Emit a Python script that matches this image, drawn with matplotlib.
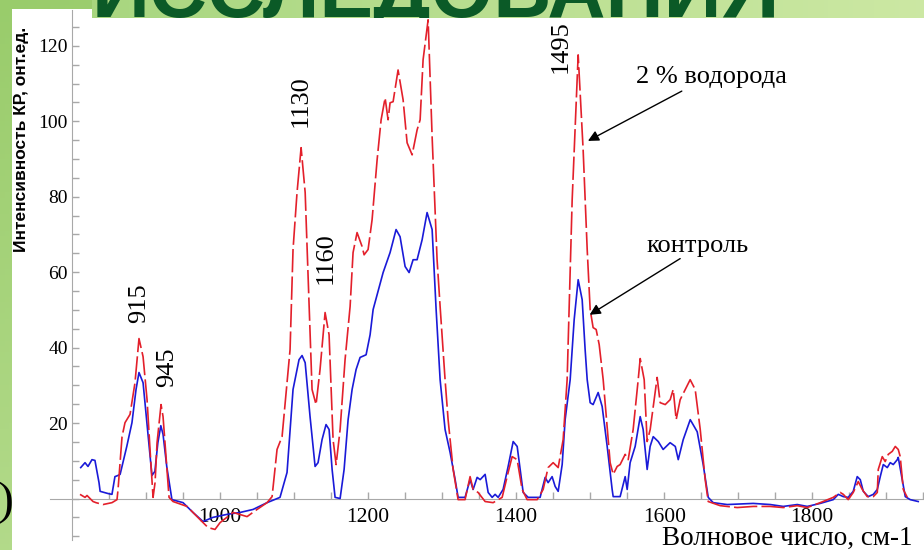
import matplotlib
matplotlib.use("Agg")
import matplotlib.pyplot as plt
from matplotlib.patches import Rectangle
from matplotlib.ticker import FixedLocator
import numpy as np

# контроль (синяя линия)
wn_ctrl = [811.8, 817.6, 821.6, 827, 831, 836.5, 838, 849, 854, 858, 862, 865, 874, 881,
           886.5, 890.5, 896, 903, 908, 912, 916, 920, 923, 928, 935, 950, 963.5, 977,
           990.5, 1009.5, 1027, 1044.6, 1063.5, 1081, 1090.5, 1098.6, 1106.7, 1110.8, 1115,
           1121.6, 1128.4, 1132.4, 1137.8, 1143.2, 1147.3, 1151.4, 1155.4, 1162.2, 1167.6,
           1173, 1178.4, 1183.8, 1189.2, 1197.3, 1202.7, 1206.8, 1220.3, 1229.7, 1237.8,
           1243.2, 1250, 1255.4, 1260.8, 1266.2, 1273, 1279.7, 1286.5, 1291.9, 1297.3, 1304,
           1310.8, 1317.6, 1321.6, 1331, 1337.8, 1341.9, 1347.3, 1351.4, 1358.1, 1362.2,
           1367.6, 1371.6, 1375.7, 1382.4, 1389.2, 1396, 1401.4, 1405.4, 1409.5, 1416.2,
           1432.4, 1439.2, 1443.2, 1448.6, 1452.7, 1456.8, 1462.2, 1466.2, 1473, 1478.4,
           1483.8, 1489.2, 1493.2, 1496, 1500, 1504, 1510.8, 1516.2, 1523, 1529.7, 1531.1,
           1540.5, 1547.3, 1550, 1554, 1560.8, 1567.6, 1571.6, 1577, 1581, 1585.2, 1592,
           1598.6, 1608, 1615, 1619, 1625.7, 1635.2, 1644.6, 1652.7, 1659.5, 1666.2, 1685.1,
           1720.3, 1743.3, 1760.8, 1779.8, 1793.3, 1810.8, 1828.4, 1835.2, 1842, 1848.6,
           1855.4, 1860.8, 1864.9, 1869, 1875.7, 1882.5, 1887.9, 1891.9, 1896, 1901.4,
           1905.4, 1909.5, 1914.9, 1916.2, 1921.6, 1925.7, 1932.4, 1943.2]
int_ctrl = [8.2, 9.5, 8.5, 10.3, 10.1, 4.2, 1.9, 1.3, 1.1, 5.8, 6.1, 6.4, 13.8, 20.1,
            28.9, 33.4, 30.7, 16.4, 6.1, 7.2, 14.8, 19.3, 17.0, 8.5, -0.3, -1.1, -3.7, -6.1,
            -5.0, -4.2, -3.7, -2.9, -1.1, 0.3, 6.9, 28.9, 36.8, 37.9, 36.0,
            21.7, 8.5, 9.5, 15.6, 19.6, 18.3, 7.7, 0.3, 0.0, 7.7,
            20.9, 28.9, 34.2, 37.4, 38.1, 43.4, 50.1, 59.9, 65.2, 71.3,
            69.4, 61.5, 59.9, 63.3, 63.3, 68.6, 75.8, 71.3, 50.1, 31.5, 18.3,
            12.2, 5.0, 0.3, 0.3, 5.0, 2.4, 5.6, 5.0, 6.4, 1.6,
            0.3, 1.1, 0.3, 2.4, 8.5, 15.1, 13.8, 7.7, 1.6, 0.3,
            0.3, 5.6, 4.2, 5.8, 3.2, 1.9, 9.0, 20.9, 31.5, 47.4,
            58.0, 52.7, 39.5, 31.5, 25.4, 24.9, 28.1, 24.4, 13.8, 2.4, 0.5,
            0.5, 5.8, 2.4, 9.5, 13.8, 21.7, 18.3, 7.7, 13.8, 16.4, 15.1,
            13.0, 14.8, 13.8, 10.3, 15.6, 20.9, 17.7, 9.0, 0.3, -1.1, -1.6,
            -1.3, -1.6, -2.1, -1.6, -2.1, -1.3, -0.3, 1.1, 0.5, 0.3,
            1.9, 5.8, 5.0, 1.9, 0.5, 1.1, 2.4, 5.8, 9.0, 8.2,
            9.5, 9.0, 10.3, 10.9, 5.0, 0.5, -0.3, -0.8]

# 2 % водорода (красная пунктирная)
wn_h2 = [810.8, 817.6, 820.3, 828.4, 832.4, 841.9, 854, 860.8, 862.2, 867.6, 871.6, 878.4,
         885.1, 890.5, 896, 901.4, 905.4, 909.5, 912.2, 914.9, 920.3, 923, 927, 931.1,
         936.5, 955.4, 973, 983.8, 993.2, 1000, 1017.6, 1036.5, 1050, 1063.5, 1070.3, 1077,
         1083.8, 1094.6, 1098.6, 1104, 1109.5, 1115, 1120.3, 1124.3, 1129.7, 1135.1, 1141.9,
         1147.3, 1152.7, 1156.8, 1162.2, 1168.9, 1175.7, 1179.7, 1185.1, 1191.9, 1194.6,
         1200, 1205.4, 1212.2, 1217.6, 1223, 1227, 1229.7, 1233.8, 1240.5, 1247.3, 1252.7,
         1259.5, 1266.2, 1270.3, 1274.3, 1281.1, 1286.5, 1293.2, 1297.3, 1304, 1308.1,
         1314.9, 1321.6, 1331, 1337.8, 1341.9, 1348.6, 1358.1, 1368.9, 1381.1, 1389.2,
         1394.6, 1401.4, 1408.1, 1414.9, 1428.4, 1436.5, 1443.2, 1450, 1456.8, 1463.5,
         1468.9, 1475.7, 1483.8, 1490.5, 1496, 1500, 1504, 1508.1, 1512.2, 1517.6, 1527,
         1531.1, 1536.5, 1540.5, 1547.3, 1551.4, 1558.1, 1564.9, 1567.6, 1573, 1577, 1581.1,
         1587.8, 1590.5, 1594.6, 1601.4, 1608.1, 1612.2, 1616.2, 1621.6, 1627, 1635.1,
         1641.9, 1648.7, 1655.4, 1659.5, 1675.7, 1698.7, 1720.3, 1743.2, 1760.8, 1779.7,
         1793.2, 1810.8, 1828.4, 1837.8, 1842, 1848.6, 1855.4, 1862.2, 1867.6, 1874.3,
         1882.5, 1887.9, 1889.2, 1894.6, 1898.6, 1902.7, 1908.1, 1912.2, 1916.2, 1918.9,
         1923, 1928.4]
int_h2 = [1.1, 0.3, 0.8, -0.8, -1.1, -1.6, -1.1, -0.3, 2.4, 16.4, 20.1, 22.3,
          30.7, 42.4, 37.6, 26.2, 13.0, 0.3, 4.2, 14.8, 24.9, 21.7, 11.1, 0.3,
          -0.8, -2.1, -5.6, -7.7, -8.2, -6.4, -3.7, -4.8, -2.9, -1.1, 0.5, 13.0,
          16.4, 39.5, 66.0, 81.1, 93.0, 81.1, 50.9, 28.9, 24.9, 34.2, 49.3,
          43.4, 15.6, 9.0, 18.3, 36.8, 50.9, 65.2, 70.5, 66.8, 64.6,
          66.0, 73.9, 89.8, 100.4, 106.2, 100.4, 104.9, 105.2, 113.6, 105.7, 94.3,
          91.1, 97.7, 100.4, 116.3, 126.9, 95.9, 63.3, 50.9, 31.5, 20.9,
          7.7, -0.3, -0.3, 5.8, 2.4, 1.6, -0.8, -1.1, 0.3, 6.9,
          11.1, 10.3, 2.4, -0.3, -0.3, 2.4, 8.2, 9.5, 8.2, 15.6,
          31.5, 79.2, 117.6, 92.5, 66.0, 50.1, 45.3, 44.8, 40.8, 31.5, 9.5,
          6.4, 8.5, 9.0, 11.7, 10.3, 18.3, 31.5, 37.1, 31.5, 15.1, 18.3,
          28.1, 32.1, 25.4, 24.9, 26.2, 28.9, 20.9, 26.2, 28.3, 31.5,
          28.9, 18.3, 5.0, -0.8, -1.9, -2.4, -2.1, -2.1, -2.4, -1.9,
          -2.4, -1.1, 0.3, 1.6, 1.1, -0.3, 1.6, 4.5, 2.4, 0.5,
          0.5, 1.6, 7.7, 11.1, 9.8, 11.7, 12.5, 13.8, 13.0, 11.1,
          2.4, 0.3]

peak_labels = ["915", "945", "1130", "1160", "1495"]
peak_x = [890.5, 928.4, 1109.5, 1143.2, 1459.5]
peak_y = [51.9, 34.7, 105.4, 63.8, 119.7]

W, H = 924, 550
fig = plt.figure(figsize=(W / 100, H / 100), dpi=100)

# фон слайда (зелёный градиент)
bg = fig.add_axes([0, 0, 1, 1], zorder=-10)
gx = np.linspace(0, 1, 200)
gy = np.linspace(0, 1, 100)
GX, GY = np.meshgrid(gx, gy)
c0 = np.array([0.60, 0.80, 0.42])
c1 = np.array([0.80, 0.91, 0.66])
t = np.clip(0.5 * GX + 0.5 * GY, 0, 1)[..., None]
bg.imshow(c0 * (1 - t) + c1 * t, aspect='auto', extent=[0, 1, 0, 1])
bg.axis('off')

fig.text(13 / W, 1 - 503 / H, ")", ha='right', va='center', fontsize=34,
         family='Liberation Serif', zorder=-7)
fig.patches.append(Rectangle((12 / W, 0), 1, 1 - 9 / H, transform=fig.transFigure,
                             facecolor='white', edgecolor='none', zorder=-5))

# полоса заголовка
band = fig.add_axes([92 / W, 1 - 18 / H, 1 - 92 / W, 18 / H], zorder=5)
bx = np.linspace(0, 1, 200)[None, :, None]
band.imshow(np.array([0.66, 0.84, 0.50]) * (1 - bx) + np.array([0.80, 0.91, 0.64]) * bx,
            aspect='auto', extent=[0, 1, 0, 1])
band.set_xlim(0, 1)
band.set_ylim(0, 1)
band.axis('off')
band.text(0.0, 1 / 18, "ИССЛЕДОВАНИЯ", transform=band.transAxes, ha='left', va='baseline',
          fontsize=58, fontweight='bold', family='Liberation Sans', color='#0b5a27',
          clip_on=True)

ax = fig.add_axes([72 / W, 10 / H, 852 / W, 530 / H], zorder=1)
ax.patch.set_alpha(0)

ax.plot(wn_ctrl, int_ctrl, color='#1a1ad8', lw=1.2, zorder=3)
ax.plot(wn_h2, int_h2, color='#e3202b', lw=1.2, dashes=(14, 2.5), zorder=4)

ax.set_xlim(800, 1951)
ax.set_ylim(-11, 129.5)

gray = '#a8a8a8'
for s in ['top', 'right']:
    ax.spines[s].set_visible(False)
ax.spines['left'].set_color(gray)
ax.spines['bottom'].set_color(gray)
ax.spines['bottom'].set_position(('data', 0))
ax.spines['bottom'].set_bounds(770, 1951)

ax.set_xticks([1000, 1200, 1400, 1600, 1800])
ax.xaxis.set_minor_locator(FixedLocator(np.arange(850, 1951, 50)))
ax.set_yticks([0, 20, 40, 60, 80, 100, 120])
ax.set_yticklabels(['', '20', '40', '60', '80', '100', '120'])
ax.yaxis.set_minor_locator(FixedLocator(np.arange(-10, 126, 5)))
ax.tick_params(which='both', direction='in', length=5, width=1, color=gray)
ax.tick_params(axis='x', which='major', pad=7, labelsize=15.5)
ax.tick_params(axis='y', which='major', pad=3, labelsize=14)
for lab in ax.get_xticklabels() + ax.get_yticklabels():
    lab.set_family('Liberation Serif')

fig.text(913 / W, 5 / H, "Волновое число, см-1", ha='right', va='baseline',
         fontsize=19.5, family='Liberation Serif')
fig.text(22 / W, 1 - 139 / H, "Интенсивность КР, онт.ед.", rotation=90,
         ha='center', va='center', fontsize=12.5, fontweight='bold', family='Liberation Sans')

for lab, x, y in zip(peak_labels, peak_x, peak_y):
    ax.text(x, y, lab, rotation=90, ha='center', va='center', fontsize=19,
            family='Liberation Serif', zorder=5)

ax.text(1663.5, 111.8, "2 % водорода", ha='center', va='center', fontsize=19,
        family='Liberation Serif', zorder=5)
ax.text(1644.6, 67.0, "контроль", ha='center', va='center', fontsize=19,
        family='Liberation Serif', zorder=5)
arrow = dict(arrowstyle='-|>', color='black', lw=1, mutation_scale=16,
             shrinkA=0, shrinkB=0)
ax.annotate('', xy=(1497, 94.8), xytext=(1623.8, 108), arrowprops=arrow, zorder=5)
ax.annotate('', xy=(1499.3, 48.7), xytext=(1621.6, 63.6), arrowprops=arrow, zorder=5)

fig.savefig('out.png', dpi=100)
